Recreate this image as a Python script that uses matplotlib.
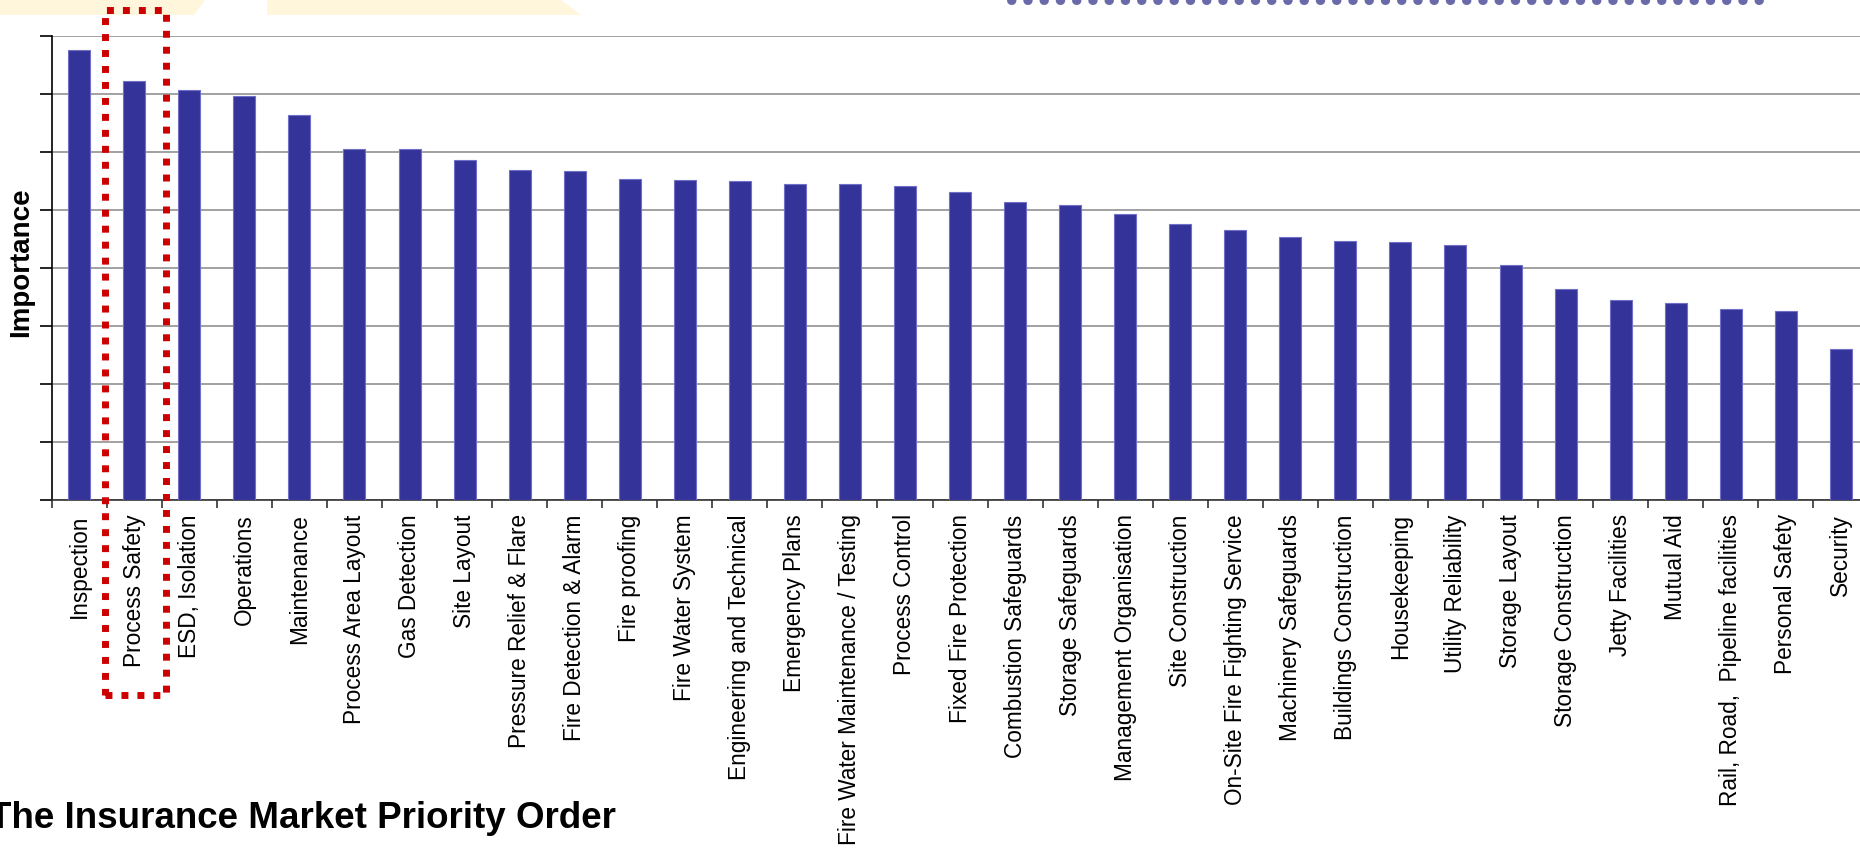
import numpy as np
import matplotlib
matplotlib.use("Agg")
import matplotlib.pyplot as plt
from matplotlib.patches import Rectangle, Polygon
from matplotlib.lines import Line2D

categories = [
    "Inspection", "Process Safety", "ESD, Isolation", "Operations", "Maintenance",
    "Process Area Layout", "Gas Detection", "Site Layout", "Pressure Relief & Flare",
    "Fire Detection & Alarm", "Fire proofing", "Fire Water System",
    "Engineering and Technical", "Emergency Plans", "Fire Water Maintenance / Testing",
    "Process Control", "Fixed Fire Protection", "Combustion Safeguards",
    "Storage Safeguards", "Management Organisation", "Site Construction",
    "On-Site Fire Fighting Service", "Machinery Safeguards", "Buildings Construction",
    "Housekeeping", "Utility Reliability", "Storage Layout", "Storage Construction",
    "Jetty Facilities", "Mutual Aid", "Rail, Road,  Pipeline facilities",
    "Personal Safety", "Security",
]
importance = [
    7.76, 7.22, 7.07, 6.97, 6.63, 6.05, 6.05, 5.86, 5.69, 5.67, 5.54, 5.52,
    5.50, 5.44, 5.44, 5.42, 5.30, 5.13, 5.09, 4.93, 4.76, 4.66, 4.54, 4.46,
    4.44, 4.40, 4.05, 3.63, 3.44, 3.39, 3.29, 3.25, 2.60,
]
y_ticks = list(range(0, 9))

plt.rcParams["font.family"] = ["Liberation Sans", "DejaVu Sans"]

W, H = 1860, 849
fig = plt.figure(figsize=(W / 100, H / 100), dpi=100)
fig.patch.set_facecolor("white")


def fx(px):
    return px / W


def fy(py):
    return 1 - py / H


# decorative slide background bits
fig.patches.append(Polygon([(fx(0), fy(0)), (fx(205), fy(0)), (fx(194), fy(15)), (fx(0), fy(15))],
                           closed=True, transform=fig.transFigure, facecolor="#fff6dc",
                           edgecolor="none", zorder=0))
fig.patches.append(Polygon([(fx(267), fy(0)), (fx(561), fy(0)), (fx(581), fy(15)), (fx(267), fy(15))],
                           closed=True, transform=fig.transFigure, facecolor="#fff6dc",
                           edgecolor="none", zorder=0))
fig.lines.append(Line2D([fx(1011), fx(1772)], [fy(0), fy(0)], transform=fig.transFigure,
                        color="#6a6aaa", lw=6.5, linestyle=(0, (0.05, 1.75)),
                        dash_capstyle="round", zorder=1))

step = 55.05
ax = fig.add_axes([fx(51.7), fy(499.7), 33 * step / W, (499.7 - 36) / H])
x = np.arange(len(categories))
ax.bar(x, importance, width=0.4, color="#333399", edgecolor="#7070c8", linewidth=0.8, zorder=3)
ax.set_xlim(-0.5, len(categories) - 0.5)
ax.set_ylim(0, 8)
ax.set_yticks(y_ticks)
ax.set_yticklabels([])
ax.yaxis.grid(True, color="#9a9a9a", lw=1.3, zorder=0)
ax.set_axisbelow(True)
ax.set_xticks(x)
ax.set_xticklabels(categories, rotation=90, fontsize=16.3)
ax.tick_params(axis="x", which="major", length=0, pad=10.5)
ax.set_xticks(np.arange(-0.5, len(categories), 1), minor=True)
ax.tick_params(axis="x", which="minor", length=6, width=1.2, color="#333333", direction="out")
ax.tick_params(axis="y", length=8.6, width=1.2, color="black", direction="out")
for s in ("top", "right"):
    ax.spines[s].set_visible(False)
ax.spines["left"].set_color("black")
ax.spines["left"].set_linewidth(1.2)
ax.spines["bottom"].set_color("#333333")
ax.spines["bottom"].set_linewidth(1.2)

fig.text(fx(21), fy(262), "Importance", rotation=90, ha="center", va="center",
         fontsize=20, fontweight="bold")
fig.text(fx(-11), fy(828), "The Insurance Market Priority Order", ha="left", va="baseline",
         fontsize=26.5, fontweight="bold")

# red dotted highlight box around "Process Safety"
fig.patches.append(Rectangle((fx(105), fy(695)), fx(166) - fx(105), fy(10) - fy(695),
                             transform=fig.transFigure, fill=False, edgecolor="#cc0000",
                             lw=5.0, linestyle=(0, (1.0, 1.3)), zorder=10))

fig.savefig("out.png", dpi=100)
